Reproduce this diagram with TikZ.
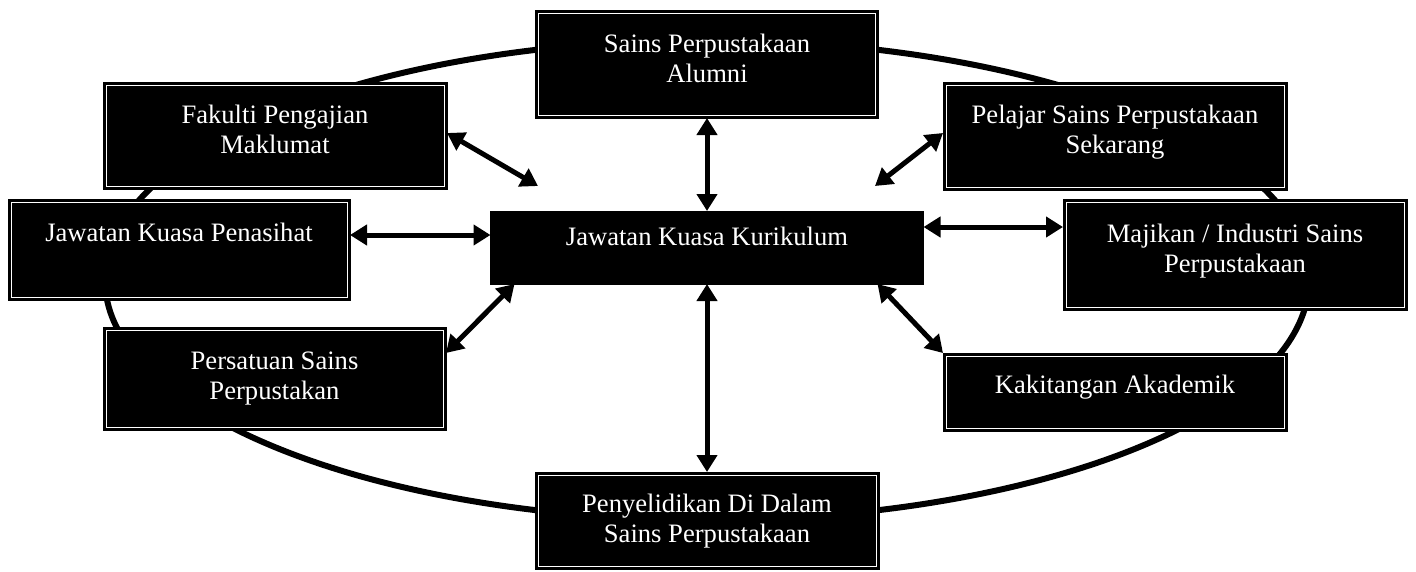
\documentclass[tikz,border=0pt]{standalone}
\usepackage{fontspec}
\setmainfont{Liberation Serif}
\usetikzlibrary{arrows.meta}
\tikzset{
  box/.style={fill=black, draw=black, line width=1pt, inner sep=0pt, outer sep=0pt},
  innerline/.style={draw=white, line width=0.9pt},
  lbl/.style={text=white, font=\fontsize{26.6}{30}\selectfont, align=center, anchor=base, inner sep=0pt},
  link/.style={line width=5pt, {Triangle[length=17pt,width=20pt]}-{Triangle[length=17pt,width=20pt]}},
  ring/.style={line width=6pt}
}
\newcommand\dblbox[5]{%
  \node[box, minimum width=#3pt, minimum height=#4pt] (#1) at (#2) {};
  \draw[innerline] ([shift={(3pt,-3pt)}]#1.north west) rectangle ([shift={(-3pt,3pt)}]#1.south east);
  \node[lbl] (#1-t) at ([yshift=-#5pt]#1.north) {\csname lbl#1\endcsname};
}
\def\lblalum{Sains Perpustakaan\\Alumni}
\def\lblfak{Fakulti Pengajian\\Maklumat}
\def\lblpen{Jawatan Kuasa Penasihat}
\def\lblpers{Persatuan Sains\\Perpustakan}
\def\lblpeny{Penyelidikan Di Dalam\\Sains Perpustakaan}
\def\lblpel{Pelajar Sains Perpustakaan\\Sekarang}
\def\lblmaj{Majikan / Industri Sains\\Perpustakaan}
\def\lblkak{Kakitangan Akademik}
\begin{document}
\begin{tikzpicture}[x=1pt,y=-1pt]
\useasboundingbox (0,0) rectangle (1416,571);
\fill[white] (0,0) rectangle (1416,571);
\draw[ring] (707,280) ellipse [x radius=602pt, y radius=240pt];

\dblbox{alum}{707,64}{343}{108}{72}
\dblbox{fak}{275,135.5}{344}{107}{71}
\dblbox{pen}{179,249.5}{342}{101}{42}
\dblbox{pers}{274.5,378.5}{343}{103}{72}
\dblbox{peny}{707,520.5}{344}{97}{70}
\dblbox{pel}{1115,136}{344}{108}{71}
\dblbox{maj}{1235,254.5}{344}{111}{73}
\dblbox{kak}{1115,392}{344}{78}{40}

\node[box, minimum width=433pt, minimum height=73pt] (cen) at (707,247.5) {};
\node[lbl] (cen-t) at ([yshift=-34pt]cen.north) {Jawatan Kuasa Kurikulum};

\coordinate (fakend) at (538,186);
\coordinate (pelend) at (875,186);

\draw[link] (alum.south) -- (cen.north);
\draw[link] (peny.north) -- (cen.south);
\draw[link] ([yshift=14.5pt]pen.east) -- ([yshift=12.5pt]cen.west);
\draw[link] ([yshift=20.5pt]cen.east) -- ([yshift=27.5pt]maj.west);
\draw[link] ([yshift=2.5pt]fak.east) -- (fakend);
\draw[link] ([yshift=3pt]pel.west) -- (pelend);
\draw[link] ([yshift=25.5pt]pers.east) -- ([xshift=24pt]cen.south west);
\draw[link] (kak.north west) -- ([xshift=-46pt]cen.south east);
\end{tikzpicture}
\end{document}
